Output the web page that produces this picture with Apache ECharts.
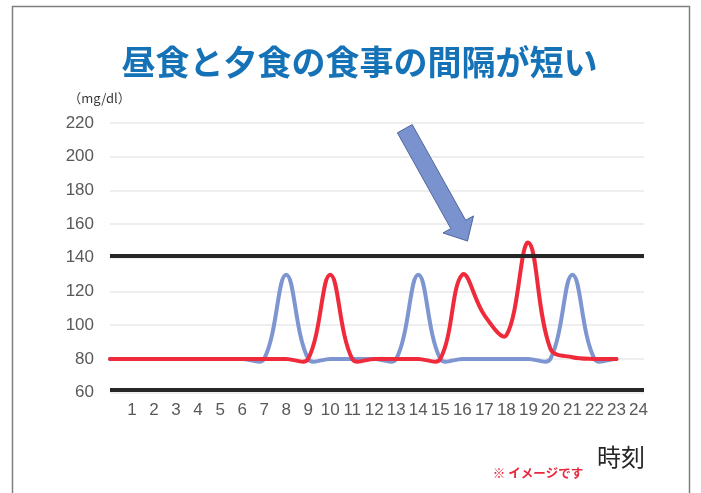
<!DOCTYPE html>
<html>
<head>
<meta charset="utf-8">
<script src="https://cdn.jsdelivr.net/npm/echarts@6/dist/echarts.min.js"></script>
<style>
html,body{margin:0;padding:0;background:#fff;}
#chart{width:701px;height:493px;}
</style>
</head>
<body>
<div id="chart"></div>
<script>
// ---- data ----
var hours = [0,1,2,3,4,5,6,7,8,9,10,11,12,13,14,15,16,17,18,19,20,21,22,23];
var blueValues = [80,80,80,80,80,80,80,80,130,80,80,80,80,80,130,80,80,80,80,80,80,130,80,80];
var redValues  = [80,80,80,80,80,80,80,80,80,80,130,80,80,80,80,80,130,106,94,149,86,81,80,80];
var thresholds = [141, 61.5];
var xTickLabels = ['1','2','3','4','5','6','7','8','9','10','11','12','13','14','15','16','17','18','19','20','21','22','23','24'];
var yMin = 60, yMax = 220, yStep = 20;
var titleText = '昼食と夕食の食事の間隔が短い';
var unitText = '（mg/dl）';
var xNameText = '時刻';
var noteText = '※ イメージです';

function pairs(xs, ys){ return xs.map(function(x,i){ return [x, ys[i]]; }); }

// smoothed line (spreadsheet-like chord-weighted Bezier smoothing), drawn through the axis scales
function smoothLineSeries(name, xs, ys, color, z){
  var data = pairs(xs, ys);
  var t = 0.38;
  function dist(a, b){ var dx = a[0]-b[0], dy = a[1]-b[1]; return Math.sqrt(dx*dx+dy*dy); }
  return {
    type: 'custom', name: name, coordinateSystem: 'cartesian2d', z: z,
    data: data, encode: { x: 0, y: 1 }, silent: true, clip: false,
    renderItem: function(params, api){
      if (params.dataIndex !== 0) return null;
      var p = data.map(function(d){ return api.coord(d); });
      var n = p.length;
      // control points around each point
      var cin = [], cout = [];
      for (var i = 0; i < n; i++) {
        var prev = p[Math.max(i-1,0)], cur = p[i], next = p[Math.min(i+1,n-1)];
        var vx = next[0]-prev[0], vy = next[1]-prev[1];
        var d0 = dist(cur, prev), d1 = dist(cur, next);
        var sum = d0 + d1 || 1;
        var r1 = d1/sum, r0 = d0/sum;
        cout.push([cur[0] + vx*t*r1, cur[1] + vy*t*r1]);
        cin.push([cur[0] - vx*t*r0, cur[1] - vy*t*r0]);
      }
      var d = 'M' + p[0][0] + ' ' + p[0][1];
      for (var j = 0; j < n - 1; j++) {
        d += ' C' + cout[j][0] + ' ' + cout[j][1] + ' ' + cin[j+1][0] + ' ' + cin[j+1][1] +
             ' ' + p[j+1][0] + ' ' + p[j+1][1];
      }
      return {
        type: 'path',
        shape: { pathData: d },
        style: { fill: 'none', stroke: color, lineWidth: 4, lineJoin: 'round', lineCap: 'round' }
      };
    }
  };
}

// arrow geometry (decorative annotation)
function arrowPoints(sx, sy, tx, ty, w, W, L){
  var dx = tx - sx, dy = ty - sy, len = Math.sqrt(dx*dx+dy*dy);
  var ux = dx/len, uy = dy/len, nx = uy, ny = -ux;
  var bx = tx - ux*L, by = ty - uy*L;
  return [
    [sx+nx*w, sy+ny*w],
    [bx+nx*w, by+ny*w],
    [bx+nx*W, by+ny*W],
    [tx, ty],
    [bx-nx*W, by-ny*W],
    [bx-nx*w, by-ny*w],
    [sx-nx*w, sy-ny*w]
  ];
}

var chart = echarts.init(document.getElementById('chart'), null, {renderer:'canvas'});
var option = {
  backgroundColor: '#ffffff',
  animation: false,
  grid: { left: 110, top: 123, width: 534, height: 269.6, containLabel: false, outerBoundsMode: 'none' },
  xAxis: {
    type: 'value', min: 0, max: 24.25, interval: 1,
    axisLine: { show: false }, axisTick: { show: false }, splitLine: { show: false },
    axisLabel: {
      margin: 9, color: '#595959', fontSize: 17, fontFamily: 'Liberation Sans',
      showMinLabel: true, showMaxLabel: true,
      formatter: function(v){
        if (Math.abs(v - Math.round(v)) > 1e-6) return '';
        var i = Math.round(v);
        return (i >= 1 && i <= xTickLabels.length) ? xTickLabels[i-1] : '';
      }
    }
  },
  yAxis: {
    type: 'value', min: yMin, max: yMax, interval: yStep,
    axisLine: { show: false }, axisTick: { show: false },
    splitLine: { show: true, lineStyle: { color: '#e8e8e8', width: 1.5 } },
    axisLabel: { margin: 16, color: '#595959', fontSize: 17, fontFamily: 'Liberation Sans' }
  },
  series: [
    smoothLineSeries('blue', hours, blueValues, '#7d95d0', 3),
    smoothLineSeries('red', hours, redValues, '#ef2a3b', 4),
    {
      type: 'line', name: 'limits', data: [], z: 5,
      markLine: {
        silent: true, symbol: 'none', animation: false,
        label: { show: false },
        lineStyle: { color: '#262626', width: 4, type: 'solid' },
        data: thresholds.map(function(v){ return { yAxis: v }; })
      }
    }
  ],
  graphic: [
    { type: 'rect', z: 0, shape: { x: 12.5, y: 6.5, width: 677, height: 520 },
      style: { fill: 'none', stroke: '#7f7f7f', lineWidth: 1.5 } },
    { type: 'text', z: 10, x: 359.5, y: 62,
      style: { text: titleText, fill: '#1572b6', fontSize: 34, fontWeight: 'bold',
               fontFamily: 'Noto Sans CJK JP', align: 'center', verticalAlign: 'middle' } },
    { type: 'text', z: 10, x: 99.5, y: 98,
      style: { text: unitText, fill: '#3a3a3a', fontSize: 13,
               fontFamily: 'Noto Sans CJK JP', align: 'center', verticalAlign: 'middle' } },
    { type: 'text', z: 10, x: 621, y: 457,
      style: { text: xNameText, fill: '#262626', fontSize: 24,
               fontFamily: 'Noto Sans CJK JP', align: 'center', verticalAlign: 'middle' } },
    { type: 'text', z: 10, x: 538, y: 473,
      style: { text: noteText, fill: '#e8283c', fontSize: 12.5, fontWeight: 'bold',
               fontFamily: 'Noto Sans CJK JP', align: 'center', verticalAlign: 'middle' } },
    { type: 'polygon', z: 20,
      shape: { points: arrowPoints(404.8, 128.7, 467.5, 241, 8.5, 17.5, 19) },
      style: { fill: '#7a92cd', stroke: '#51679f', lineWidth: 1 } }
  ]
};
chart.setOption(option);
</script>
</body>
</html>
